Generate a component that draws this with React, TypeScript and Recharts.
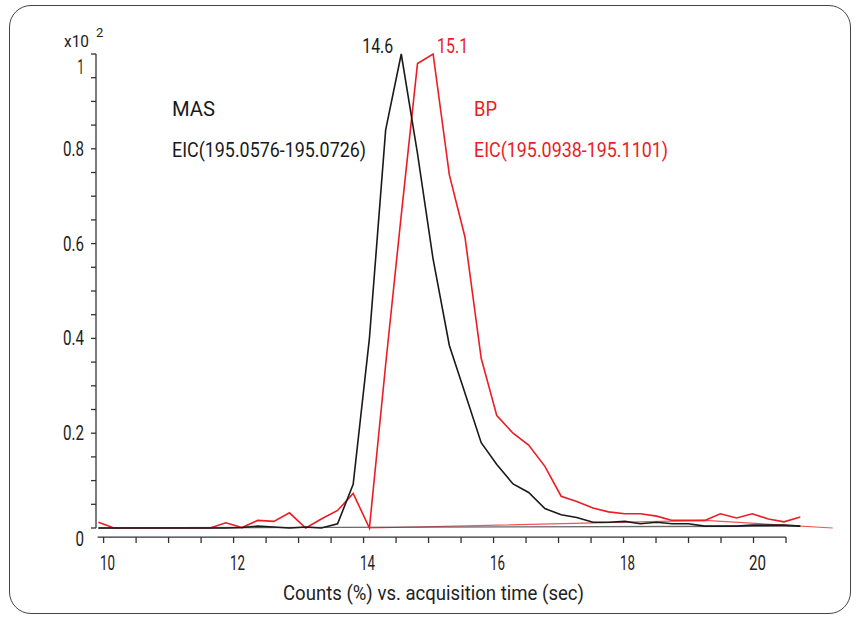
import { LineChart, Line, XAxis, YAxis, ReferenceLine } from "recharts";

const FONT = "Roboto, 'Liberation Sans', sans-serif";
const RED = "#ec1c24";
const BLACK = "#1a1a1a";
const AXIS = "#333333";
const TEXT = "#222222";

// acquisition time (sec)
const times = [
  9.92, 10.16, 10.41, 10.65, 10.9, 11.14, 11.39, 11.64, 11.88, 12.13, 12.37, 12.62,
  12.86, 13.11, 13.35, 13.6, 13.84, 14.09, 14.34, 14.58, 14.83, 15.07, 15.32, 15.56,
  15.81, 16.05, 16.3, 16.54, 16.79, 17.04, 17.28, 17.53, 17.77, 18.02, 18.26, 18.51,
  18.75, 19.0, 19.25, 19.49, 19.74, 19.98, 20.23, 20.47, 20.72,
];

// MAS  EIC(195.0576-195.0726), counts x10^2
const masCounts = [
  0, 0, 0, 0, 0, 0, 0, 0, 0, 0.001, 0.004, 0.002, 0, 0.002, 0, 0.009, 0.092, 0.4, 0.84, 1.0,
  0.79, 0.567, 0.385, 0.285, 0.18, 0.134, 0.093, 0.075, 0.041, 0.028, 0.022, 0.012, 0.012,
  0.014, 0.009, 0.012, 0.009, 0.009, 0.004, 0.004, 0.004, 0.006, 0.006, 0.006, 0.004,
];

// BP  EIC(195.0938-195.1101), counts x10^2
const bpCounts = [
  0.012, 0, 0, 0, 0, 0, 0, 0, 0.011, 0.001, 0.016, 0.014, 0.032, 0, 0.019, 0.037, 0.073, 0,
  0.345, 0.66, 0.98, 1.0, 0.745, 0.614, 0.358, 0.237, 0.2, 0.175, 0.13, 0.067, 0.056, 0.042,
  0.034, 0.03, 0.03, 0.025, 0.016, 0.016, 0.016, 0.03, 0.021, 0.03, 0.019, 0.013, 0.023,
];

// closing strokes drawn by the instrument software
const masReturnTimes = [20.72, 9.92];
const masReturnCounts = [0.004, 0];
const bpReturnTimes = [14.09, 19.25, 21.22];
const bpReturnCounts = [0, 0.016, 0];

const xTicks = [
  10, 10.5, 11, 11.5, 12, 12.5, 13, 13.5, 14, 14.5, 15, 15.5, 16, 16.5, 17, 17.5, 18, 18.5,
  19, 19.5, 20, 20.5,
];
const yTicks = [
  0, 0.05, 0.1, 0.15, 0.2, 0.25, 0.3, 0.35, 0.4, 0.45, 0.5, 0.55, 0.6, 0.65, 0.7, 0.75, 0.8,
  0.85, 0.9, 0.95, 1,
];

const masData = times.map((t, i) => ({ t, v: masCounts[i] }));
const bpData = times.map((t, i) => ({ t, v: bpCounts[i] }));
const masReturn = masReturnTimes.map((t, i) => ({ t, v: masReturnCounts[i] }));
const bpReturn = bpReturnTimes.map((t, i) => ({ t, v: bpReturnCounts[i] }));

const masPeak = masCounts.indexOf(Math.max(...masCounts));
const bpPeak = bpCounts.indexOf(Math.max(...bpCounts));

// condensed look: squeeze text to the width it has in the original
const textWidth = (s: string) =>
  s.split("").reduce((w, c) => w + (c === "." ? 4 : c === "1" ? 6.5 : 8.5), 0);

function XTick(props: any) {
  const { x, y, payload } = props;
  const v = payload.value;
  const major = Math.abs(v % 2) < 1e-6;
  return (
    <g>
      <line x1={x} y1={y + 9} x2={x} y2={y + 15} stroke={AXIS} strokeWidth={1.3} />
      {major && (
        <text
          x={x + 4}
          y={y + 42}
          textAnchor="middle"
          fill={TEXT}
          fontSize={20}
          fontFamily={FONT}
          textLength={textWidth(String(v))}
          lengthAdjust="spacingAndGlyphs"
        >
          {v}
        </text>
      )}
    </g>
  );
}

function YTick(props: any) {
  const { x, y, payload } = props;
  const v = payload.value;
  const r = Math.round(v * 100);
  if (r % 20 !== 0) return null;
  const label = v === 0 ? "0" : v === 1 ? "1" : v.toFixed(1);
  const dy = v === 0 ? 18 : v === 1 ? 20 : 7;
  return (
    <text
      x={x}
      y={y + dy}
      textAnchor="end"
      fill={TEXT}
      fontSize={20}
      fontFamily={FONT}
      textLength={textWidth(label)}
      lengthAdjust="spacingAndGlyphs"
    >
      {label}
    </text>
  );
}

const peakLabel = (idx: number, text: string, color: string, side: "left" | "right") =>
  (props: any) => {
    if (props.index !== idx) return null;
    return (
      <text
        x={side === "left" ? props.x - 8 : props.x + 4}
        y={props.y - 1}
        textAnchor={side === "left" ? "end" : "start"}
        fill={color}
        fontSize={20}
        fontFamily={FONT}
        textLength={31}
        lengthAdjust="spacingAndGlyphs"
      >
        {text}
      </text>
    );
  };

export default function App() {
  return (
    <div style={{ position: "absolute", left: 0, top: 0, width: 857, height: 619, background: "#fff", fontFamily: FONT }}>
      <div
        style={{
          position: "absolute",
          left: 9,
          top: 5,
          width: 840,
          height: 607,
          border: "1.5px solid #444",
          borderRadius: 22,
        }}
      />
      <div style={{ position: "absolute", left: 0, top: 0 }}>
        <LineChart width={857} height={619} data={masData} margin={{ top: 54, right: 19, bottom: 51, left: 36 }}>
          <XAxis
            type="number"
            dataKey="t"
            domain={[9.883, 21.3]}
            ticks={xTicks}
            height={40}
            axisLine={false}
            tickLine={false}
            tickSize={0}
            tickMargin={0}
            tick={<XTick />}
            interval={0}
          />
          <YAxis
            type="number"
            domain={[0, 1]}
            ticks={yTicks}
            width={60}
            interval={0}
            axisLine={{ stroke: AXIS, strokeWidth: 1.3 }}
            tickLine={{ stroke: AXIS, strokeWidth: 1.3 }}
            tickSize={5}
            tickMargin={7}
            tick={<YTick />}
          />
          <ReferenceLine
            segment={[
              { x: 9.908, y: -0.0192 },
              { x: 20.5, y: -0.0192 },
            ]}
            ifOverflow="visible"
            stroke={AXIS}
            strokeWidth={1.3}
          />
          <Line data={bpReturn} dataKey="v" stroke={RED} strokeOpacity={0.75} strokeWidth={1.2} dot={false} isAnimationActive={false} />
          <Line data={masReturn} dataKey="v" stroke="#444" strokeOpacity={0.8} strokeWidth={1.4} dot={false} isAnimationActive={false} />
          <Line
            data={bpData}
            dataKey="v"
            stroke={RED}
            strokeWidth={1.6}
            dot={false}
            isAnimationActive={false}
            label={peakLabel(bpPeak, "15.1", RED, "right")}
          />
          <Line
            data={masData}
            dataKey="v"
            stroke={BLACK}
            strokeWidth={1.6}
            dot={false}
            isAnimationActive={false}
            label={peakLabel(masPeak, "14.6", BLACK, "left")}
          />
        </LineChart>
      </div>
      <svg width={857} height={619} style={{ position: "absolute", left: 0, top: 0, pointerEvents: "none" }}>
        <text x={64} y={47} fontSize={17} fill={TEXT} fontFamily={FONT} textLength={25} lengthAdjust="spacingAndGlyphs">
          x10
        </text>
        <text x={96} y={37} fontSize={13} fill={TEXT} fontFamily={FONT}>
          2
        </text>
        <text x={172} y={116} fontSize={21} fill={BLACK} fontFamily={FONT} textLength={43} lengthAdjust="spacingAndGlyphs">
          MAS
        </text>
        <text x={172} y={157} fontSize={21} fill={BLACK} fontFamily={FONT} textLength={194} lengthAdjust="spacingAndGlyphs">
          EIC(195.0576-195.0726)
        </text>
        <text x={474} y={116} fontSize={21} fill={RED} fontFamily={FONT} textLength={23} lengthAdjust="spacingAndGlyphs">
          BP
        </text>
        <text x={474} y={157} fontSize={21} fill={RED} fontFamily={FONT} textLength={194} lengthAdjust="spacingAndGlyphs">
          EIC(195.0938-195.1101)
        </text>
        <text x={283} y={600} fontSize={20} fill={TEXT} fontFamily={FONT} textLength={301} lengthAdjust="spacingAndGlyphs">
          Counts (%) vs. acquisition time (sec)
        </text>
      </svg>
    </div>
  );
}
